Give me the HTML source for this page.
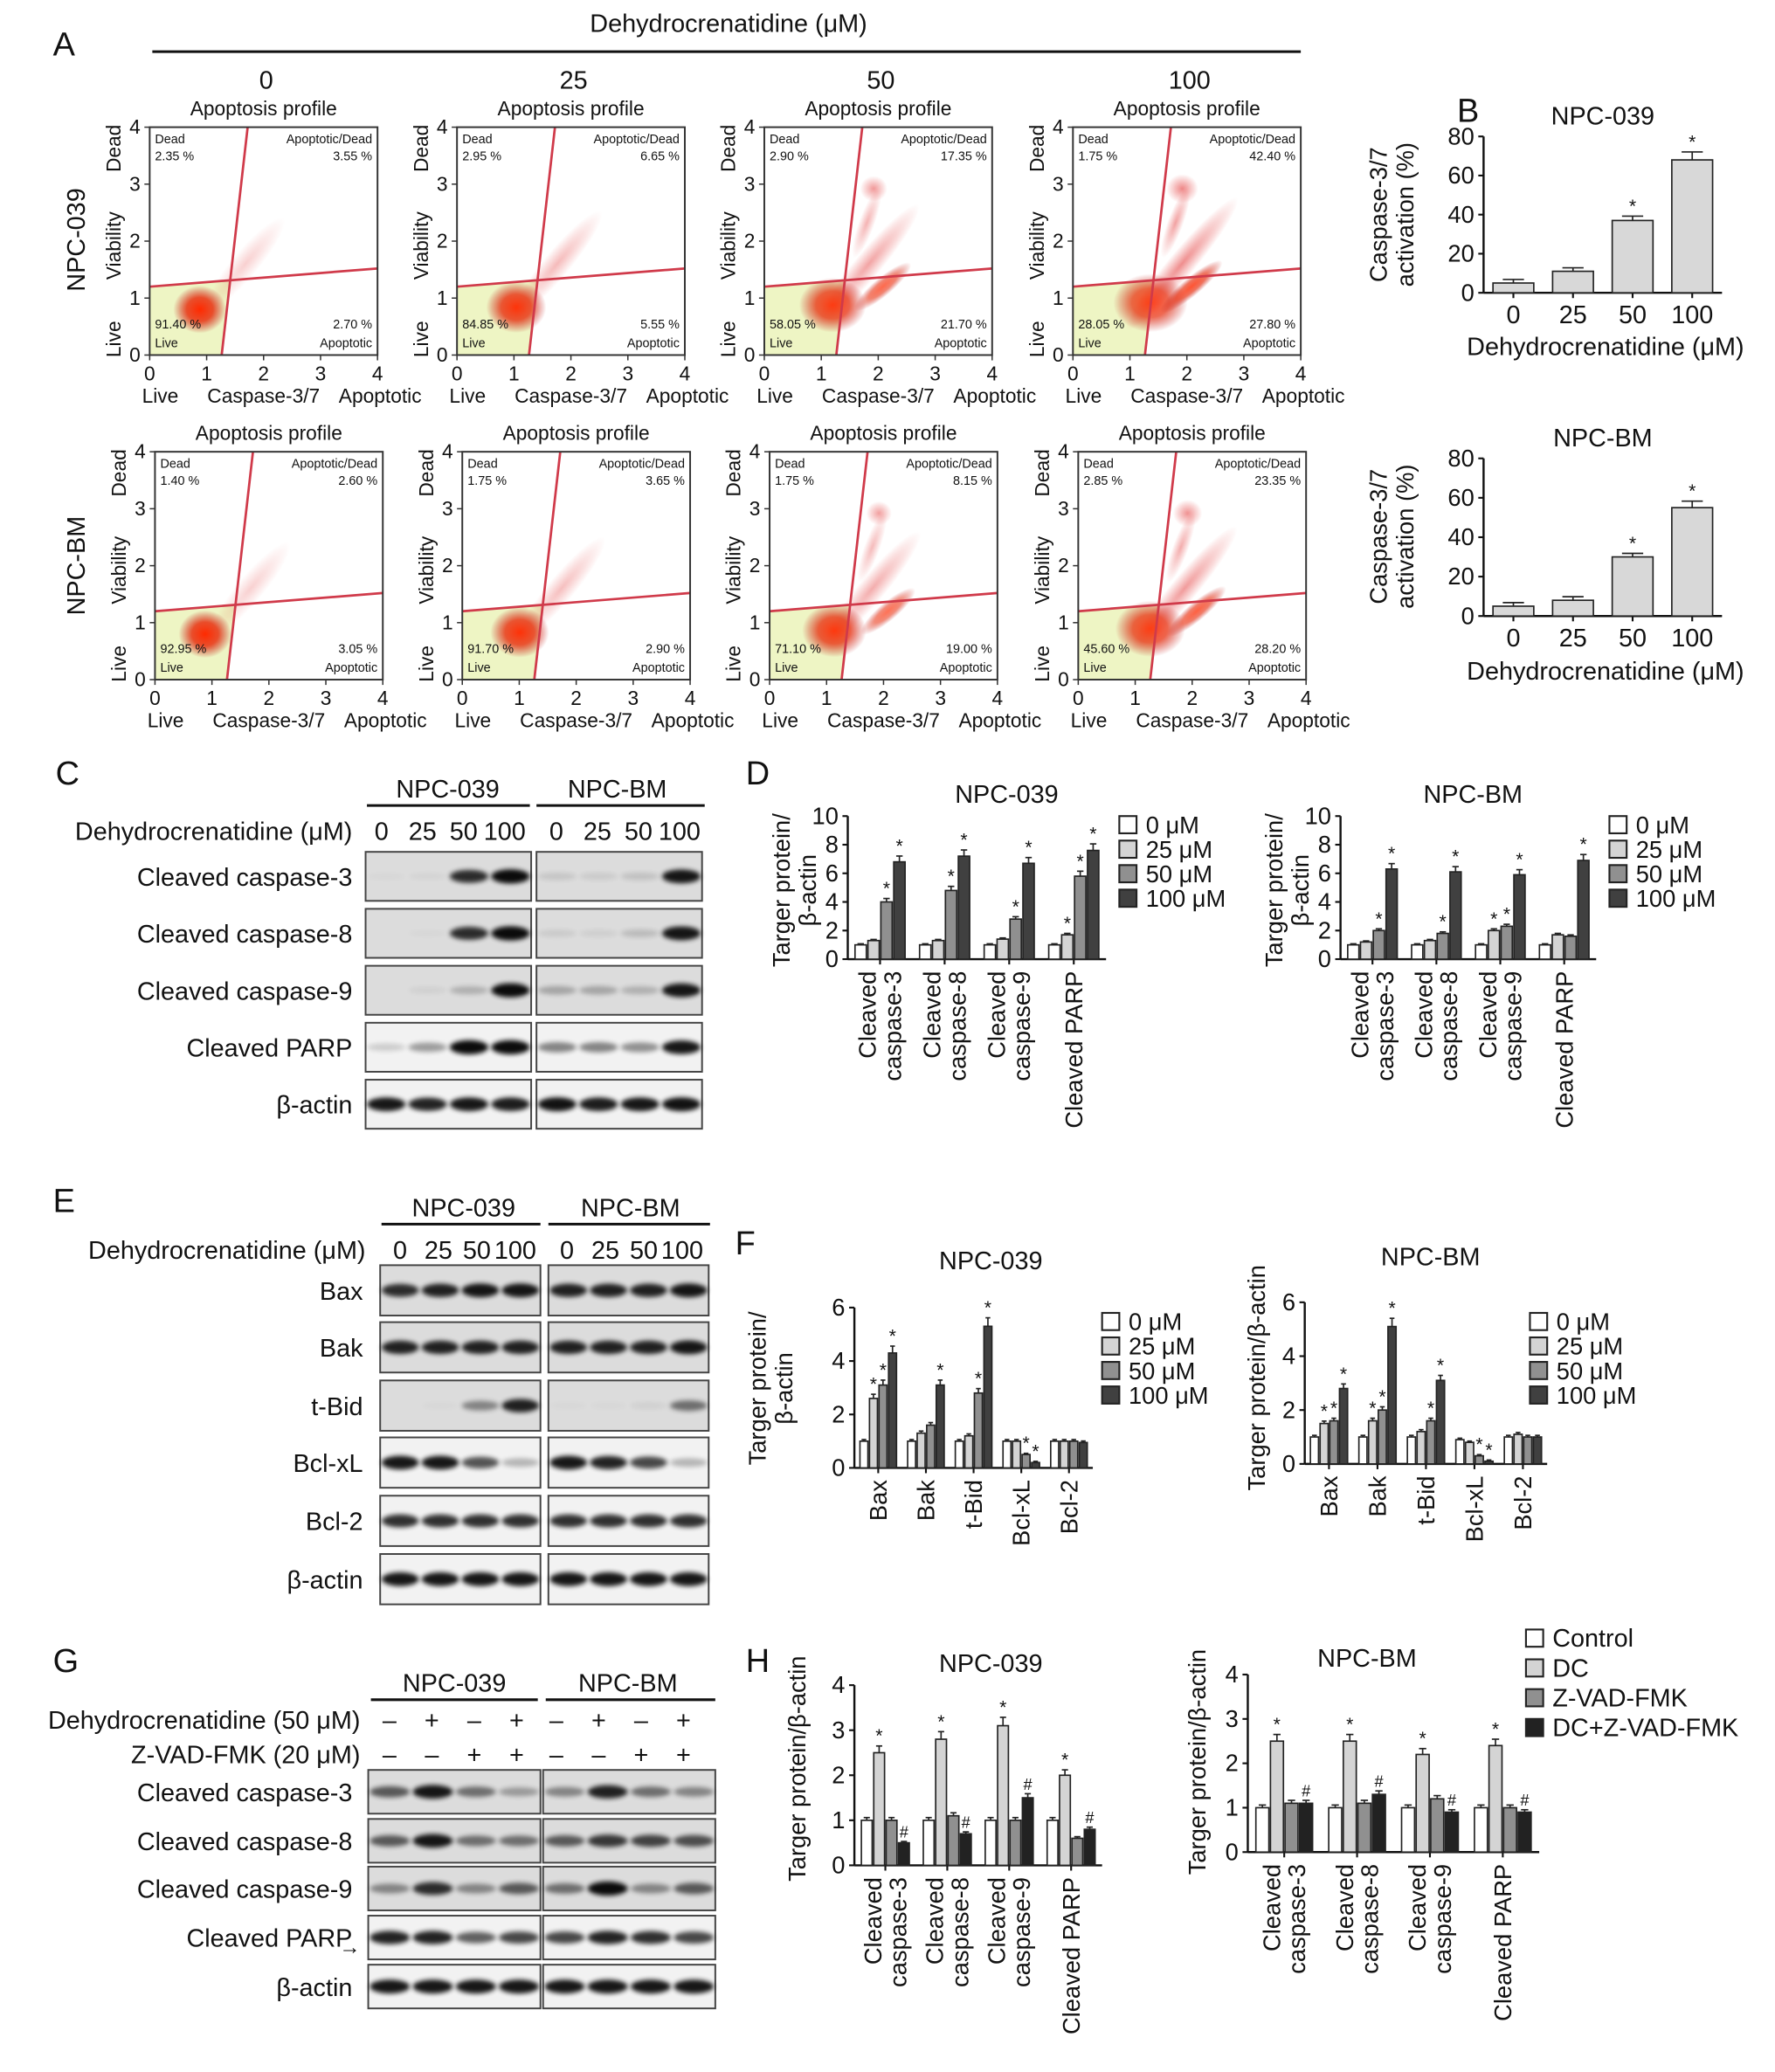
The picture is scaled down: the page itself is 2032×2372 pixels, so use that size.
<!DOCTYPE html>
<html><head><meta charset="utf-8"><style>
html,body{margin:0;padding:0;background:#fff}
svg{display:block}
text{font-family:"Liberation Sans",sans-serif;fill:#111}
</style></head><body>
<svg id="fig" width="2032" height="2372" viewBox="0 0 1340 1564" preserveAspectRatio="none" xmlns="http://www.w3.org/2000/svg">
<defs>
<radialGradient id="cloud"><stop offset="0" stop-color="#ff2a00"/><stop offset="0.5" stop-color="#e83010" stop-opacity="0.85"/><stop offset="1" stop-color="#c02020" stop-opacity="0"/></radialGradient>
<radialGradient id="haze"><stop offset="0" stop-color="#e02020" stop-opacity="0.6"/><stop offset="1" stop-color="#e02020" stop-opacity="0"/></radialGradient>
<filter id="blur" x="-50%" y="-50%" width="200%" height="200%"><feGaussianBlur stdDeviation="1.8"/></filter>
</defs>
</svg>
<script>
// ---------- data ----------
const flowConc = ["0","25","50","100"];
const flowDead039 = ["2.35 %","2.95 %","2.90 %","1.75 %"];
const flowAD039 = ["3.55 %","6.65 %","17.35 %","42.40 %"];
const flowLive039 = ["91.40 %","84.85 %","58.05 %","28.05 %"];
const flowApo039 = ["2.70 %","5.55 %","21.70 %","27.80 %"];
const flowDeadBM = ["1.40 %","1.75 %","1.75 %","2.85 %"];
const flowADBM = ["2.60 %","3.65 %","8.15 %","23.35 %"];
const flowLiveBM = ["92.95 %","91.70 %","71.10 %","45.60 %"];
const flowApoBM = ["3.05 %","2.90 %","19.00 %","28.20 %"];

const bCats = ["0","25","50","100"];
const b039 = [5,11,37,68];
const bBM = [5,8,30,55];

const dGroups = [["Cleaved","caspase-3"],["Cleaved","caspase-8"],["Cleaved","caspase-9"],["Cleaved PARP"]];
const d039 = [[1,1.3,4,6.8],[1,1.3,4.8,7.2],[1,1.4,2.8,6.7],[1,1.7,5.8,7.6]];
const dBM = [[1,1.2,2,6.3],[1,1.3,1.8,6.1],[1,2,2.3,5.9],[1,1.7,1.6,6.9]];
const dStars039 = [[0,0,1,1],[0,0,1,1],[0,0,1,1],[0,1,1,1]];
const dStarsBM = [[0,0,1,1],[0,0,1,1],[0,1,1,1],[0,0,0,1]];
const concLegend = ["0 μM","25 μM","50 μM","100 μM"];

const fGroups = [["Bax"],["Bak"],["t-Bid"],["Bcl-xL"],["Bcl-2"]];
const f039 = [[1,2.6,3.1,4.3],[1,1.3,1.6,3.1],[1,1.2,2.8,5.3],[1,1,0.5,0.2],[1,1,1,0.95]];
const fBM = [[1,1.5,1.6,2.8],[1,1.6,2,5.1],[1,1.2,1.6,3.1],[0.9,0.8,0.3,0.1],[1,1.1,1,1]];
const fStars039 = [[0,1,1,1],[0,0,0,1],[0,0,1,1],[0,0,1,1],[0,0,0,0]];
const fStarsBM = [[0,1,1,1],[0,1,1,1],[0,0,1,1],[0,0,1,1],[0,0,0,0]];

const hGroups = [["Cleaved","caspase-3"],["Cleaved","caspase-8"],["Cleaved","caspase-9"],["Cleaved PARP"]];
const h039 = [[1,2.5,1,0.5],[1,2.8,1.1,0.7],[1,3.1,1,1.5],[1,2,0.6,0.8]];
const hBM = [[1,2.5,1.1,1.1],[1,2.5,1.1,1.3],[1,2.2,1.2,0.9],[1,2.4,1,0.9]];
const hLegend = ["Control","DC","Z-VAD-FMK","DC+Z-VAD-FMK"];

const blotC = [["Cleaved caspase-3",[0.02,0.03,0.8,0.95],[0.1,0.08,0.12,0.9]],["Cleaved caspase-8",[0,0.02,0.8,0.95],[0.08,0.06,0.15,0.9]],["Cleaved caspase-9",[0,0.05,0.2,0.95],[0.25,0.25,0.2,0.9]],["Cleaved PARP",[0.15,0.35,0.95,0.95],[0.45,0.45,0.4,0.9]],["β-actin",[0.9,0.85,0.9,0.88],[0.92,0.88,0.9,0.92]]];
const blotE = [["Bax",[0.8,0.85,0.9,0.9],[0.85,0.85,0.85,0.9]],["Bak",[0.85,0.85,0.85,0.85],[0.85,0.85,0.85,0.9]],["t-Bid",[0,0.02,0.4,0.85],[0.02,0.02,0.05,0.5]],["Bcl-xL",[0.9,0.9,0.65,0.25],[0.9,0.85,0.7,0.25]],["Bcl-2",[0.8,0.8,0.8,0.8],[0.8,0.8,0.8,0.8]],["β-actin",[0.9,0.9,0.9,0.9],[0.9,0.9,0.9,0.9]]];
const blotG = [["Cleaved caspase-3",[0.6,0.9,0.5,0.3],[0.4,0.85,0.5,0.4]],["Cleaved caspase-8",[0.6,0.9,0.5,0.5],[0.6,0.75,0.7,0.65]],["Cleaved caspase-9",[0.4,0.8,0.4,0.6],[0.5,0.95,0.4,0.6]],["Cleaved PARP",[0.85,0.85,0.6,0.7],[0.7,0.85,0.8,0.7]],["β-actin",[0.9,0.9,0.9,0.9],[0.9,0.9,0.9,0.9]]];

const greys4 = ["#ffffff","#d4d4d4","#909090","#404040"];
const greysH = ["#ffffff","#d4d4d4","#909090","#222222"];

// ---------- helpers ----------
const NS="http://www.w3.org/2000/svg";
const svg=document.getElementById('fig');
function el(tag,attrs,parent,txt){const e=document.createElementNS(NS,tag);for(const k in attrs)e.setAttribute(k,attrs[k]);if(txt!==undefined)e.textContent=txt;(parent||svg).appendChild(e);return e;}
function T(x,y,s,size,anchor,parent,extra){const t=el('text',Object.assign({x:x,y:y,'font-size':size,'text-anchor':anchor||'start'},extra||{}),parent,s);return t;}
function G(name){const g=el('g',{});return g;}

// ---------- panel letters ----------
[["A",40,42],["B",1100,92],["C",42,592],["D",563,592],["E",40,915],["F",555,947],["G",40,1262],["H",563,1262]].forEach(p=>{const t=T(p[1],p[2],p[0],25,'start');});

// ---------- Panel A ----------
const gA=G('panel-a-flow');
T(550,24,"Dehydrocrenatidine (μM)",19,'middle',gA);
el('line',{x1:115,y1:39,x2:982,y2:39,stroke:'#111','stroke-width':2},gA);
const colX=[113,345,577,810];
flowConc.forEach((c,i)=>T(colX[i]+88,67,c,19,'middle',gA));
const rowLab=[["NPC-039",95],["NPC-BM",341]];
rowLab.forEach(r=>T(0,0,r[0],19,'middle',gA,{transform:`translate(64,${r[1]+86}) rotate(-90)`}));
function flow(px,py,i,dead,ad,live,apo,strength){
  const g=G('flow-plot');const w=172,h=172;
  T(px+w/2,py-9,"Apoptosis profile",15,'middle',g);
  const xv0=px+0.316*w, xv1=px+0.43*w, yh0=py+0.70*h, yh1=py+0.62*h;
  const xi=xv0+(xv1-xv0)*(1-0.67);
  const yi=yh0+(yh1-yh0)*((xi-px)/w);
  el('polygon',{points:`${px},${yh0} ${xi},${yi} ${xv0},${py+h} ${px},${py+h}`,fill:'#eef5c4'},g);
  const s=strength/3;
  // diagonal streak
  el('ellipse',{cx:0,cy:0,rx:45+s*20,ry:10,fill:'url(#haze)',opacity:0.35+s*0.5,transform:`translate(${px+0.42*w+s*10},${py+0.6*h}) rotate(-50)`},g);
  // main cluster
  el('ellipse',{cx:px+0.22*w+s*0.12*w,cy:py+0.80*h-s*5,rx:20+s*8,ry:18+s*4,fill:'url(#cloud)',opacity:1-s*0.15},g);
  if(strength>1){
    el('ellipse',{cx:0,cy:0,rx:22+s*8,ry:7,fill:'url(#cloud)',opacity:0.5+s*0.3,transform:`translate(${px+0.52*w},${py+0.7*h}) rotate(-40)`},g);
    el('ellipse',{cx:px+0.48*w,cy:py+0.27*h,rx:7+s*5,ry:7+s*4,fill:'url(#haze)',opacity:0.5+s*0.4},g);
    el('ellipse',{cx:0,cy:0,rx:28,ry:6,fill:'url(#haze)',opacity:0.3+s*0.4,transform:`translate(${px+0.45*w},${py+0.42*h}) rotate(-70)`},g);}
  el('line',{x1:xv0,y1:py+h,x2:xv1,y2:py,stroke:'#d03a4a','stroke-width':1.8},g);
  el('line',{x1:px,y1:yh0,x2:px+w,y2:yh1,stroke:'#d03a4a','stroke-width':1.8},g);
  el('rect',{x:px,y:py,width:w,height:h,fill:'none',stroke:'#333','stroke-width':1.3},g);
  const fs=9.5;
  T(px+4,py+12,"Dead",fs,'start',g);T(px+4,py+25,dead,fs,'start',g);
  T(px+w-4,py+12,"Apoptotic/Dead",fs,'end',g);T(px+w-4,py+25,ad,fs,'end',g);
  T(px+4,py+h-20,live,fs,'start',g);T(px+4,py+h-6,"Live",fs,'start',g);
  T(px+w-4,py+h-20,apo,fs,'end',g);T(px+w-4,py+h-6,"Apoptotic",fs,'end',g);
  for(let k=0;k<=4;k++){const x=px+k*w/4,y=py+h-k*h/4;
    el('line',{x1:x,y1:py+h,x2:x,y2:py+h+4,stroke:'#333'},g);el('line',{x1:px-4,y1:y,x2:px,y2:y,stroke:'#333'},g);
    T(x,py+h+19,String(k),15,'middle',g);T(px-7,y+5,String(k),15,'end',g);}
  T(px+8,py+h+36,"Live",15,'middle',g);T(px+w*0.5,py+h+36,"Caspase-3/7",15,'middle',g);T(px+w+2,py+h+36,"Apoptotic",15,'middle',g);
  T(0,0,"Dead",15,'middle',g,{transform:`translate(${px-22},${py+16}) rotate(-90)`});
  T(0,0,"Viability",15,'middle',g,{transform:`translate(${px-22},${py+h*0.52}) rotate(-90)`});
  T(0,0,"Live",15,'middle',g,{transform:`translate(${px-22},${py+h-12}) rotate(-90)`});
}
for(let i=0;i<4;i++){flow(colX[i],96,i,flowDead039[i],flowAD039[i],flowLive039[i],flowApo039[i],i);
  flow(colX[i]+4,341,i,flowDeadBM[i],flowADBM[i],flowLiveBM[i],flowApoBM[i],i*0.8);}

// ---------- generic bar chart ----------
function barChart(o){
  const g=G(o.name);
  const plotW=o.x1-o.x0, ng=o.vals.length, gw=plotW/ng, bw=o.bw||gw*0.8/o.vals[0].length;
  const sy=v=>o.y0-(v/o.max)*(o.y0-o.yTop);
  el('line',{x1:o.x0,y1:o.y0,x2:o.x0,y2:o.yTop,stroke:'#111','stroke-width':1.6},g);
  el('line',{x1:o.x0,y1:o.y0,x2:o.x1,y2:o.y0,stroke:'#111','stroke-width':1.6},g);
  o.ticks.forEach(t=>{const y=sy(t);el('line',{x1:o.x0-4,y1:y,x2:o.x0,y2:y,stroke:'#111','stroke-width':1.4},g);T(o.x0-7,y+6,String(t),o.tfs||18,'end',g);});
  o.vals.forEach((arr,gi)=>{
    const gx=o.x0+gi*gw+(gw-bw*arr.length)/2;
    const cx=o.x0+gi*gw+gw/2;
    el('line',{x1:cx,y1:o.y0,x2:cx,y2:o.y0+4,stroke:'#111','stroke-width':1.4},g);
    arr.forEach((v,bi)=>{
      const x=gx+bi*bw,y=sy(v);
      const b=el('rect',{x:x+0.6,y:y,width:bw-1.2,height:o.y0-y,fill:o.colors[bi],stroke:'#222','stroke-width':1.1},g);
      
      const e=Math.max(0.06*o.max/8*(o.errScale||1),v*0.06)*(o.y0-o.yTop)/o.max;
      el('line',{x1:x+bw/2,y1:y,x2:x+bw/2,y2:y-e,stroke:'#222','stroke-width':1.1},g);
      el('line',{x1:x+bw/2-bw*0.25,y1:y-e,x2:x+bw/2+bw*0.25,y2:y-e,stroke:'#222','stroke-width':1.1},g);
      if(o.stars&&o.stars[gi][bi]){T(x+bw/2,y-e-3,o.marks?o.marks[bi]:"*",o.marks&&o.marks[bi]=='#'?12:14,'middle',g);}
    });
    if(o.groups){const lines=o.groups[gi];const fs=o.gfs||18;
      lines.forEach((ln,li)=>{const off=(li-(lines.length-1)/2)*fs*1.05;
        T(0,0,ln,fs,'end',g,{transform:`translate(${cx+off+fs*0.35},${o.y0+9}) rotate(-90)`});});}
  });
  if(o.cats)o.cats.forEach((c,i)=>T(o.x0+i*gw+gw/2,o.y0+23,c,19,'middle',g));
  if(o.title)T(o.tx,o.ty,o.title,19,'middle',g);
  if(o.ylabel){o.ylabel.forEach((ln,li)=>T(0,0,ln,18,'middle',g,{transform:`translate(${o.ylx+li*20},${o.yly}) rotate(-90)`}));}
  if(o.legend){o.legend.forEach((s,i)=>{const y=o.ly+i*o.lstep;
    const r=el('rect',{x:o.lx,y:y-12,width:13,height:13,fill:o.colors[i],stroke:'#222','stroke-width':1.4},g);
    
    T(o.lx+20,y+1,s,o.lfs||18,'start',g);});}
  return g;
}

// ---------- Panel B ----------
const bSingle=["#d8d8d8","#d8d8d8","#d8d8d8","#d8d8d8"];
barChart({name:'chart-b-npc039',x0:1120,x1:1300,y0:221,yTop:103,max:80,ticks:[0,20,40,60,80],vals:b039.map(v=>[v]),bw:32,colors:bSingle,stars:[[0],[0],[1],[1]],cats:bCats,title:"NPC-039",tx:1210,ty:94,ylabel:["Caspase-3/7","activation (%)"],ylx:1047,yly:162,errScale:3});
T(1212,268,"Dehydrocrenatidine (μM)",19,'middle');
barChart({name:'chart-b-npcbm',x0:1120,x1:1300,y0:465,yTop:346,max:80,ticks:[0,20,40,60,80],vals:bBM.map(v=>[v]),bw:32,colors:bSingle,stars:[[0],[0],[1],[1]],cats:bCats,title:"NPC-BM",tx:1210,ty:337,ylabel:["Caspase-3/7","activation (%)"],ylx:1047,yly:405,errScale:3});
T(1212,513,"Dehydrocrenatidine (μM)",19,'middle');

// ---------- blots ----------
function blot(o){
  const g=G(o.name);
  o.headers.forEach(h=>{T(h[1],o.hy,h[0],19,'middle',g);el('line',{x1:h[2],y1:o.hy+6,x2:h[3],y2:o.hy+6,stroke:'#111','stroke-width':2},g);});
  o.rows.forEach((r,ri)=>{
    const y=o.ry[ri],h=o.rh;
    T(o.lx,y+h/2+7,r[0],19,'end',g);
    [r[1],r[2]].forEach((lanes,bi)=>{
      const bx=o.bx[bi],bw=o.bw;
      const bg=ri>=o.lightFrom?'#f2f2f2':'#dcdcdc';
      const box=el('rect',{x:bx,y:y,width:bw,height:h,fill:bg,stroke:'#444','stroke-width':1.3},g);
      
      lanes.forEach((v,li)=>{const cx=bx+bw*(li+0.5)/4;
        const band=el('ellipse',{cx:cx,cy:y+h/2,rx:bw/8.6,ry:2.5+v*3,fill:'#000',opacity:v,filter:'url(#blur)'},g);
        });
    });
  });
  return g;
}
blot({name:'panel-c-blot',hy:602,headers:[["NPC-039",338,277,400],["NPC-BM",466,405,532]],lx:266,bx:[276,405],bw:125,rh:37,ry:[643,686,729,772,815],rows:blotC,lightFrom:3});
["0","25","50","100"].forEach((s,i)=>{T(288+i*31,634,s,19,'middle');T(420+i*31,634,s,19,'middle');});
T(266,634,"Dehydrocrenatidine (μM)",19,'end');

blot({name:'panel-e-blot',hy:918,headers:[["NPC-039",350,288,408],["NPC-BM",476,414,536]],lx:274,bx:[287,414],bw:121,rh:38,ry:[955,998,1042,1085,1129,1173],rows:blotE,lightFrom:3});
["0","25","50","100"].forEach((s,i)=>{T(302+i*29,950,s,19,'middle');T(428+i*29,950,s,19,'middle');});
T(276,950,"Dehydrocrenatidine (μM)",19,'end');

blot({name:'panel-g-blot',hy:1277,headers:[["NPC-039",343,280,406],["NPC-BM",474,412,540]],lx:266,bx:[278,410],bw:130,rh:33,ry:[1336,1373,1409,1446,1483],rows:blotG,lightFrom:3});
T(272,1305,"Dehydrocrenatidine (50 μM)",19,'end');T(272,1331,"Z-VAD-FMK (20 μM)",19,'end');
const dcSigns=["–","+","–","+"],zSigns=["–","–","+","+"];
for(let i=0;i<4;i++){[294,420].forEach(b=>{T(b+i*32,1305,dcSigns[i],19,'middle');T(b+i*32,1331,zSigns[i],19,'middle');});}
T(272,1475,"→",16,'end');

// ---------- Panel D ----------
barChart({name:'chart-d-npc039',x0:640,x1:835,y0:724,yTop:616,max:10,ticks:[0,2,4,6,8,10],vals:d039,colors:greys4,stars:dStars039,groups:dGroups,title:"NPC-039",tx:760,ty:606,ylabel:["Targer protein/","β-actin"],ylx:596,yly:672,legend:concLegend,lx:845,ly:628,lstep:18.5,lfs:18});
barChart({name:'chart-d-npcbm',x0:1012,x1:1205,y0:724,yTop:616,max:10,ticks:[0,2,4,6,8,10],vals:dBM,colors:greys4,stars:dStarsBM,groups:dGroups,title:"NPC-BM",tx:1112,ty:606,ylabel:["Targer protein/","β-actin"],ylx:968,yly:672,legend:concLegend,lx:1215,ly:628,lstep:18.5,lfs:18});

// ---------- Panel F ----------
barChart({name:'chart-f-npc039',x0:645,x1:825,y0:1108,yTop:987,max:6,ticks:[0,2,4,6],vals:f039,colors:greys4,stars:fStars039,groups:fGroups,title:"NPC-039",tx:748,ty:958,ylabel:["Targer protein/","β-actin"],ylx:578,yly:1048,legend:concLegend,lx:832,ly:1003,lstep:18.5});
barChart({name:'chart-f-npcbm',x0:985,x1:1168,y0:1105,yTop:983,max:6,ticks:[0,2,4,6],vals:fBM,colors:greys4,stars:fStarsBM,groups:fGroups,title:"NPC-BM",tx:1080,ty:955,ylabel:["Targer protein/β-actin"],ylx:955,yly:1040,legend:concLegend,lx:1155,ly:1003,lstep:18.5});

// ---------- Panel H ----------
const hMarks=["","*","","#"];
barChart({name:'chart-h-npc039',x0:645,x1:832,y0:1408,yTop:1272,max:4,ticks:[0,1,2,3,4],vals:h039,colors:greysH,stars:[[0,1,0,1],[0,1,0,1],[0,1,0,1],[0,1,0,1]],marks:hMarks,groups:hGroups,title:"NPC-039",tx:748,ty:1262,ylabel:["Targer protein/β-actin"],ylx:608,yly:1335});
barChart({name:'chart-h-npcbm',x0:942,x1:1162,y0:1398,yTop:1264,max:4,ticks:[0,1,2,3,4],vals:hBM,colors:greysH,stars:[[0,1,0,1],[0,1,0,1],[0,1,0,1],[0,1,0,1]],marks:hMarks,groups:hGroups,title:"NPC-BM",tx:1032,ty:1258,ylabel:["Targer protein/β-actin"],ylx:910,yly:1330,legend:hLegend,lx:1152,ly:1242,lstep:22.5,lfs:19});
</script>
</body></html>
